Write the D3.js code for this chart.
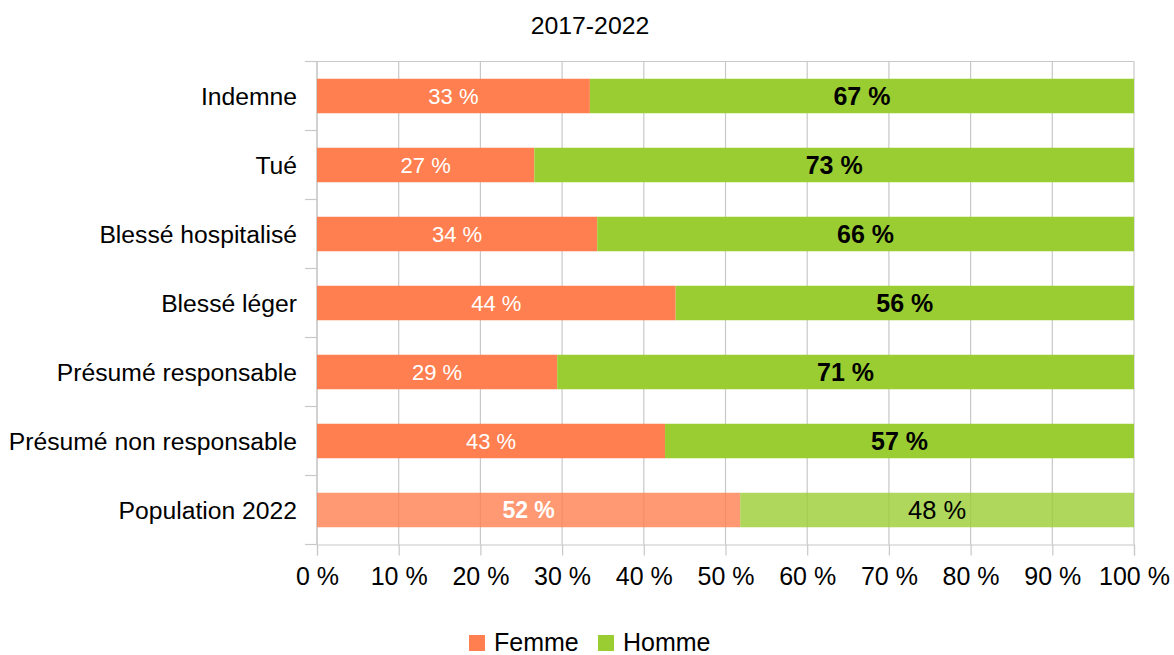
<!DOCTYPE html>
<html lang="fr">
<head>
<meta charset="utf-8">
<script src="https://cdn.jsdelivr.net/npm/d3@7"></script>
<style>
  html, body { margin: 0; padding: 0; background: #fff; }
  svg { display: block; font-family: "Liberation Sans", Arial, sans-serif; }
</style>
</head>
<body>
<svg id="chart" width="1174" height="655"></svg>
<script>
// Répartition femmes / hommes selon la gravité et la responsabilité (2017-2022)
const categories = [
  "Indemne",
  "Tué",
  "Blessé hospitalisé",
  "Blessé léger",
  "Présumé responsable",
  "Présumé non responsable",
  "Population 2022"
];
const femme = [33.4, 26.6, 34.3, 43.9, 29.4, 42.6, 51.8];
const homme = [66.6, 73.4, 65.7, 56.1, 70.6, 57.4, 48.2];
const xTicks = [0, 10, 20, 30, 40, 50, 60, 70, 80, 90, 100];
const seriesNames = ["Femme", "Homme"];
const title = "2017-2022";

const colors = { Femme: "#ff7f50", Homme: "#9acd32" };
const gridColor = "#c8c8c8";

const svg = d3.select("#chart");
const margin = { left: 317, top: 61.5 };
const plotW = 1134 - 317;
const plotH = 483;

const x = d3.scaleLinear().domain([0, 100]).range([margin.left, margin.left + plotW]);
const y = d3.scaleBand().domain(categories)
  .range([margin.top, margin.top + plotH])
  .paddingInner(0.5).paddingOuter(0.25);

// Title
svg.append("text")
  .attr("x", 590).attr("y", 34)
  .attr("text-anchor", "middle")
  .attr("font-size", 24.8).attr("fill", "#000")
  .text(title);

// Vertical gridlines
svg.append("g").selectAll("line")
  .data(xTicks)
  .join("line")
  .attr("x1", d => x(d)).attr("x2", d => x(d))
  .attr("y1", margin.top).attr("y2", margin.top + plotH)
  .attr("stroke", gridColor).attr("stroke-width", 1.2);

// Top border
svg.append("line")
  .attr("x1", margin.left - 12).attr("x2", x(100))
  .attr("y1", margin.top).attr("y2", margin.top)
  .attr("stroke", gridColor).attr("stroke-width", 1.2);

// X axis
const xAxis = d3.axisBottom(x).tickValues(xTicks)
  .tickSize(11).tickPadding(12)
  .tickFormat(d => d + " %");
const gx = svg.append("g")
  .attr("transform", `translate(0,${margin.top + plotH})`)
  .call(xAxis);
gx.select(".domain").attr("stroke", gridColor).attr("stroke-width", 1.2);
gx.selectAll(".tick line").attr("stroke", gridColor).attr("stroke-width", 1.2);
gx.selectAll(".tick text")
  .attr("font-family", "Liberation Sans, Arial, sans-serif")
  .attr("font-size", 25).attr("fill", "#000");

// Y axis: ticks at band boundaries, labels centred on bands
const gy = svg.append("g");
gy.append("line")
  .attr("x1", margin.left).attr("x2", margin.left)
  .attr("y1", margin.top).attr("y2", margin.top + plotH)
  .attr("stroke", gridColor).attr("stroke-width", 1.2);
const boundaries = d3.range(categories.length + 1).map(i => margin.top + i * y.step());
gy.selectAll("line.tk")
  .data(boundaries)
  .join("line")
  .attr("class", "tk")
  .attr("x1", margin.left - 12).attr("x2", margin.left)
  .attr("y1", d => d).attr("y2", d => d)
  .attr("stroke", gridColor).attr("stroke-width", 1.2);
gy.selectAll("text")
  .data(categories)
  .join("text")
  .attr("x", margin.left - 20)
  .attr("y", d => y(d) + y.bandwidth() / 2)
  .attr("dy", "0.35em")
  .attr("text-anchor", "end")
  .attr("font-size", 24.7).attr("fill", "#000")
  .text(d => d);

// Stacked bars
const rows = categories.map((c, i) => ({ cat: c, Femme: femme[i], Homme: homme[i], pop: i === categories.length - 1 }));
const stack = d3.stack().keys(seriesNames)(rows);

const fmt = v => Math.round(v) + " %";

stack.forEach(layer => {
  const key = layer.key;
  const g = svg.append("g");
  g.selectAll("rect")
    .data(layer)
    .join("rect")
    .attr("x", d => x(d[0]))
    .attr("y", d => y(d.data.cat))
    .attr("width", d => x(d[1]) - x(d[0]))
    .attr("height", y.bandwidth())
    .attr("fill", colors[key])
    .attr("fill-opacity", d => d.data.pop ? 0.8 : 1);

  g.selectAll("text")
    .data(layer)
    .join("text")
    .attr("x", d => (x(d[0]) + x(d[1])) / 2)
    .attr("y", d => y(d.data.cat) + y.bandwidth() / 2)
    .attr("dy", "0.36em")
    .attr("text-anchor", "middle")
    .attr("fill", key === "Femme" ? "#fff" : "#000")
    .attr("font-weight", d => (key === "Homme") !== d.data.pop ? "bold" : "normal")
    .attr("font-size", d => {
      if (key === "Femme") return d.data.pop ? 23 : 22;
      return d.data.pop ? 25.5 : 25;
    })
    .text(d => fmt(d.data[key]));
});

// Legend
const legend = svg.append("g");
const legendItems = [
  { name: "Femme", sx: 469 },
  { name: "Homme", sx: 598 }
];
legendItems.forEach(it => {
  legend.append("rect")
    .attr("x", it.sx).attr("y", 635)
    .attr("width", 16).attr("height", 16)
    .attr("fill", colors[it.name]);
  legend.append("text")
    .attr("x", it.sx + 25).attr("y", 651)
    .attr("font-size", 25).attr("fill", "#000")
    .text(it.name);
});
</script>
</body>
</html>
